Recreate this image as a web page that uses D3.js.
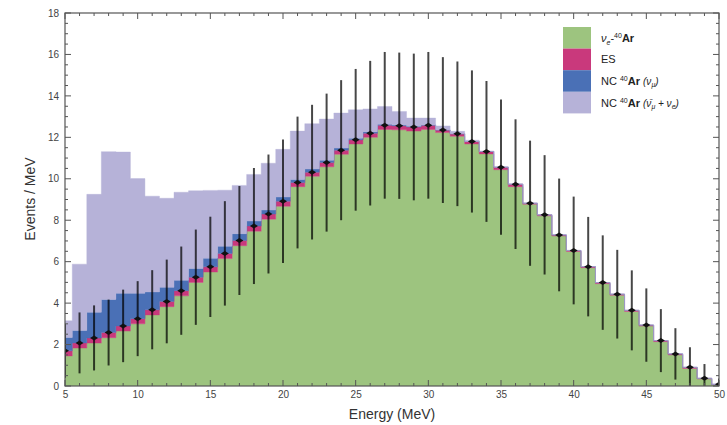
<!DOCTYPE html>
<html>
<head>
<meta charset="utf-8">
<script src="https://cdn.jsdelivr.net/npm/d3@7"></script>
<style>
  html, body { margin: 0; padding: 0; background: #fff; }
  svg { display: block; font-family: "Liberation Sans", Arial, sans-serif; }
</style>
</head>
<body>
<svg id="chart" width="727" height="425"></svg>
<script>
// ---- data ----
const energies = d3.range(5, 51); // bin centres, MeV (5..50)
// νe-40Ar CC + ES total (data-point centre)
const signalTotal = [1.70,2.08,2.32,2.58,2.90,3.25,3.68,4.08,4.60,5.25,
                     5.75,6.40,7.02,7.72,8.30,8.92,9.82,10.32,10.78,11.38,
                     11.88,12.20,12.58,12.56,12.50,12.58,12.35,12.17,11.80,11.32,
                     10.56,9.74,8.82,8.26,7.29,6.54,5.76,4.99,4.43,3.65,
                     2.94,2.19,1.55,0.90,0.37,0.08];
const esValues    = [0.25,0.25,0.25,0.25,0.25,0.25,0.25,0.25,0.25,0.25,
                     0.25,0.25,0.25,0.25,0.25,0.25,0.20,0.20,0.20,0.20,
                     0.20,0.20,0.20,0.20,0.20,0.20,0.12,0.12,0.12,0.12,
                     0.12,0.12,0.05,0.05,0.05,0.05,0.05,0.05,0.05,0.05,
                     0.05,0.05,0.05,0.05,0.03,0.02];
const ncMuValues  = [0.64,0.60,1.24,1.60,1.57,1.22,0.86,0.68,0.50,0.42,
                     0.42,0.35,0.33,0.24,0.19,0.20,0.15,0.15,0.12,0.10,
                     0.08,0.07,0.05,0.04,0.03,0.02,0,0,0,0,
                     0,0,0,0,0,0,0,0,0,0,
                     0,0,0,0,0,0];
const ncOtherValues = [0.81,3.20,5.69,7.13,6.82,5.54,4.62,4.30,4.25,3.75,
                       3.27,2.70,2.33,2.25,2.26,2.30,2.33,2.19,1.98,1.69,
                       1.37,1.10,0.86,0.65,0.40,0.33,0.20,0.12,0.06,0,
                       0,0,0,0,0,0,0,0,0,0,
                       0,0,0,0,0,0];
const errValues   = [1.30,1.47,1.57,1.59,1.75,1.81,1.91,2.02,2.13,2.30,
                     2.42,2.52,2.63,2.80,2.87,2.98,3.18,3.25,3.33,3.38,
                     3.42,3.49,3.54,3.53,3.54,3.54,3.52,3.49,3.43,3.40,
                     3.26,3.13,3.02,2.88,2.72,2.60,2.40,2.28,2.14,1.93,
                     1.77,1.52,1.24,0.97,0.69,0.28];
const xTicks = [5,10,15,20,25,30,35,40,45,50];
const yTicks = [0,2,4,6,8,10,12,14,16,18];

// ---- table for the stack ----
const rows = energies.map((E, i) => ({
  E,
  cc: signalTotal[i] - esValues[i],
  es: esValues[i],
  ncMu: ncMuValues[i],
  ncOther: ncOtherValues[i]
}));
const keys = ["cc", "es", "ncMu", "ncOther"];
const colors = { cc: "#9dc47f", es: "#c9397c", ncMu: "#4a70b6", ncOther: "#b6b2d8" };

const svg = d3.select("#chart");
const L = 65, R = 719, T = 13, B = 386;
const x = d3.scaleLinear().domain([5, 50]).range([L, R]);
const y = d3.scaleLinear().domain([0, 18]).range([B, T]);

svg.append("clipPath").attr("id", "clip")
  .append("rect").attr("x", L).attr("y", T).attr("width", R - L).attr("height", B - T);

const plot = svg.append("g").attr("clip-path", "url(#clip)");

const stacked = d3.stack().keys(keys)(rows);
const area = d3.area().x(d => x(d.x)).y0(d => y(d.lo)).y1(d => y(d.hi));

stacked.forEach(series => {
  const pts = [];
  series.forEach((s, i) => {
    const E = rows[i].E;
    const x0 = Math.max(5, E - 0.5), x1 = Math.min(50, E + 0.5);
    pts.push({ x: x0, lo: s[0], hi: s[1] });
    pts.push({ x: x1, lo: s[0], hi: s[1] });
  });
  plot.append("path")
    .attr("d", area(pts))
    .attr("fill", colors[series.key])
    .attr("stroke", colors[series.key])
    .attr("stroke-width", 0.4);
});

// error bars
plot.append("g").selectAll("line").data(rows).join("line")
  .attr("x1", (d) => x(d.E)).attr("x2", (d) => x(d.E))
  .attr("y1", (d, i) => y(Math.max(0, signalTotal[i] - errValues[i])))
  .attr("y2", (d, i) => y(signalTotal[i] + errValues[i]))
  .attr("stroke", "#000").attr("stroke-opacity", 0.72).attr("stroke-width", 2);

// data points
plot.append("g").selectAll("path").data(rows).join("path")
  .attr("d", (d, i) => {
    const cx = x(d.E), cy = y(signalTotal[i]);
    return `M${cx - 4},${cy} L${cx},${cy - 2.5} L${cx + 4},${cy} L${cx},${cy + 2.5} Z`;
  })
  .attr("fill", "#111");

// ---- frame and ticks ----
const frameColor = "#555";
svg.append("rect").attr("x", L).attr("y", T).attr("width", R - L).attr("height", B - T)
  .attr("fill", "none").attr("stroke", frameColor).attr("stroke-width", 1.2);

const tickG = svg.append("g").attr("stroke", frameColor).attr("stroke-width", 1);
d3.range(5, 51, 1).forEach(v => {
  const major = v % 5 === 0;
  const len = major ? 6 : 3;
  tickG.append("line").attr("x1", x(v)).attr("x2", x(v)).attr("y1", B).attr("y2", B - len);
  tickG.append("line").attr("x1", x(v)).attr("x2", x(v)).attr("y1", T).attr("y2", T + len);
});
d3.range(0, 18.01, 0.5).forEach(v => {
  const major = Math.abs(v % 2) < 1e-6;
  const len = major ? 6 : 3;
  tickG.append("line").attr("x1", L).attr("x2", L + len).attr("y1", y(v)).attr("y2", y(v));
  tickG.append("line").attr("x1", R).attr("x2", R - len).attr("y1", y(v)).attr("y2", y(v));
});

// axis labels via d3 axes (text only)
const xAxis = d3.axisBottom(x).tickValues(xTicks).tickSize(0).tickPadding(5);
const gx = svg.append("g").attr("transform", `translate(0,${B})`).call(xAxis);
gx.select(".domain").remove();
gx.selectAll("text").attr("font-size", 10).attr("fill", "#444")
  .attr("font-family", "Liberation Sans, Arial, sans-serif");

const yAxis = d3.axisLeft(y).tickValues(yTicks).tickSize(0).tickPadding(6);
const gy = svg.append("g").attr("transform", `translate(${L},0)`).call(yAxis);
gy.select(".domain").remove();
gy.selectAll("text").attr("font-size", 10).attr("fill", "#444")
  .attr("font-family", "Liberation Sans, Arial, sans-serif");

svg.append("text").attr("x", 392).attr("y", 419).attr("text-anchor", "middle")
  .attr("font-size", 14).attr("fill", "#333").text("Energy (MeV)");
svg.append("text").attr("transform", "translate(35,199) rotate(-90)")
  .attr("text-anchor", "middle").attr("font-size", 14).attr("fill", "#333").text("Events / MeV");

// ---- legend ----
const legendKeys = ["cc", "es", "ncMu", "ncOther"];
const lg = svg.append("g").attr("transform", "translate(563,27)");
const sw = 21.6;
legendKeys.forEach((k, i) => {
  lg.append("rect").attr("x", 0).attr("y", i * sw).attr("width", 28).attr("height", sw)
    .attr("fill", colors[k]);
});
function lt(i) {
  return lg.append("text").attr("x", 38).attr("y", i * sw + sw / 2 + 4)
    .attr("font-size", 11).attr("fill", "#222");
}
let t = lt(0);
t.append("tspan").attr("font-style", "italic").text("ν");
t.append("tspan").attr("font-size", 7).attr("dy", 3).attr("font-style", "italic").text("e");
t.append("tspan").attr("dy", -3).text("-");
t.append("tspan").attr("font-size", 7).attr("dy", -4).text("40");
t.append("tspan").attr("dy", 4).attr("font-weight", "bold").text("Ar");

t = lt(1); t.text("ES");

t = lt(2);
t.append("tspan").text("NC ");
t.append("tspan").attr("font-size", 7).attr("dy", -4).text("40");
t.append("tspan").attr("dy", 4).attr("font-weight", "bold").text("Ar ");
t.append("tspan").attr("font-size", 10).attr("font-style", "italic").text("(ν");
t.append("tspan").attr("font-size", 7).attr("dy", 2).attr("font-style", "italic").text("μ");
t.append("tspan").attr("font-size", 10).attr("dy", -2).attr("font-style", "italic").text(")");

t = lt(3);
t.append("tspan").text("NC ");
t.append("tspan").attr("font-size", 7).attr("dy", -4).text("40");
t.append("tspan").attr("dy", 4).attr("font-weight", "bold").text("Ar ");
t.append("tspan").attr("font-size", 10).attr("font-style", "italic").text("(ν\u0304");
t.append("tspan").attr("font-size", 7).attr("dy", 2).attr("font-style", "italic").text("μ");
t.append("tspan").attr("font-size", 10).attr("dy", -2).attr("font-style", "italic").text(" + ν");
t.append("tspan").attr("font-size", 7).attr("dy", 2).attr("font-style", "italic").text("e");
t.append("tspan").attr("font-size", 10).attr("dy", -2).attr("font-style", "italic").text(")");
</script>
</body>
</html>
